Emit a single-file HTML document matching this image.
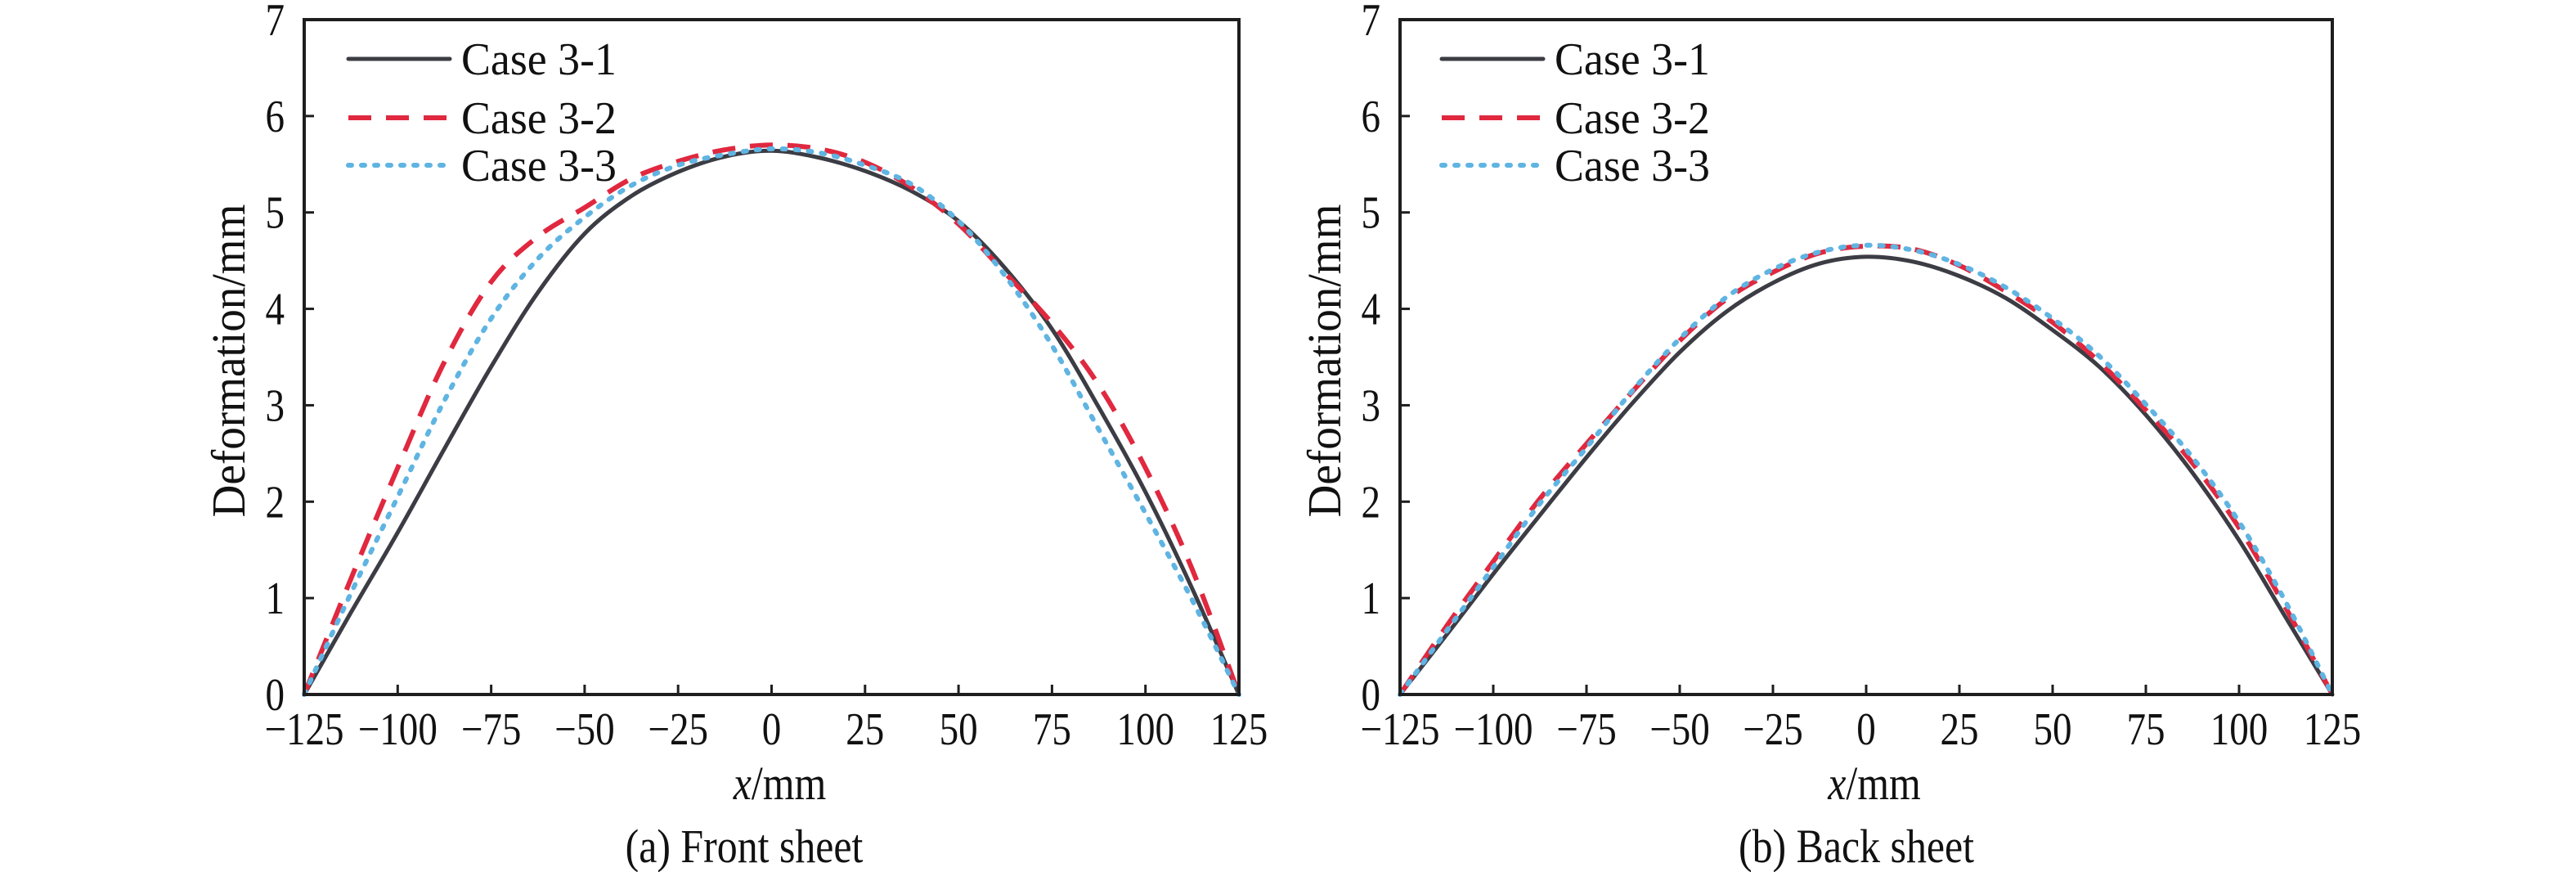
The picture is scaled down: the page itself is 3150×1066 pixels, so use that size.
<!DOCTYPE html>
<html><head><meta charset="utf-8"><style>
html,body{margin:0;padding:0;background:#fff;}
svg{display:block;font-family:"Liberation Serif",serif;}
</style></head><body>
<svg id="fig" width="3150" height="1066" viewBox="0 0 3150 1066" xmlns="http://www.w3.org/2000/svg"></svg>
<script>
const xCats = [-125,-112.5,-100,-87.5,-75,-62.5,-50,-37.5,-25,-12.5,0,12.5,25,37.5,50,62.5,75,87.5,100,112.5,125];
const xTicks = [-125,-100,-75,-50,-25,0,25,50,75,100,125];
const xTickLabels = ["\u2212125","\u2212100","\u221275","\u221250","\u221225","0","25","50","75","100","125"];
const yTicks = [0,1,2,3,4,5,6,7];
const yTickLabels = ["0","1","2","3","4","5","6","7"];
const seriesNames = ["Case 3-1","Case 3-2","Case 3-3"];
const frontCase1 = [0,0.85,1.68,2.55,3.4,4.17,4.78,5.17,5.42,5.58,5.64,5.57,5.43,5.22,4.91,4.42,3.79,2.98,2.1,1.1,0];
const frontCase2 = [0,1.2,2.35,3.45,4.28,4.75,5.05,5.35,5.53,5.65,5.7,5.66,5.52,5.26,4.88,4.37,3.85,3.21,2.35,1.3,0];
const frontCase3 = [0,1.05,2.05,3.05,3.9,4.52,4.95,5.28,5.49,5.6,5.66,5.62,5.49,5.29,4.91,4.34,3.62,2.75,1.88,0.98,0];
const backCase1 = [0,0.62,1.25,1.86,2.46,3.03,3.55,3.97,4.27,4.47,4.54,4.49,4.34,4.11,3.78,3.4,2.9,2.3,1.6,0.8,0];
const backCase2 = [0,0.71,1.38,2.03,2.6,3.15,3.67,4.1,4.38,4.58,4.65,4.62,4.45,4.18,3.86,3.45,2.95,2.4,1.73,0.9,0];
const backCase3 = [0,0.66,1.32,1.98,2.56,3.16,3.69,4.12,4.41,4.59,4.66,4.61,4.46,4.22,3.9,3.51,3.01,2.46,1.79,0.96,0];

const NS="http://www.w3.org/2000/svg";
const svg=document.getElementById('fig');
function mk(tag,attrs,parent){const e=document.createElementNS(NS,tag);for(const k in attrs)e.setAttribute(k,attrs[k]);(parent||svg).appendChild(e);return e;}
function txt(parent,x,y,size,anchor,sx,str){
  const t=mk('text',{x:0,y:0,"font-size":size,"text-anchor":anchor,fill:"#111",transform:"translate("+x+","+y+") scale("+sx+",1)"},parent);
  t.textContent=str;return t;
}
const styles=[
 {stroke:"#3c3c44",dash:"",w:5,cap:"round"},
 {stroke:"#e0283f",dash:"28 18",w:6,cap:"butt"},
 {stroke:"#5fb4e2",dash:"4 12",w:6,cap:"round"}
];
function smoothPath(pts){
  let d="M"+pts[0][0].toFixed(1)+","+pts[0][1].toFixed(1);
  for(let i=0;i<pts.length-1;i++){
    const p0=pts[i-1]||pts[i],p1=pts[i],p2=pts[i+1],p3=pts[i+2]||pts[i+1];
    const c1=[p1[0]+(p2[0]-p0[0])/6,p1[1]+(p2[1]-p0[1])/6];
    const c2=[p2[0]-(p3[0]-p1[0])/6,p2[1]-(p3[1]-p1[1])/6];
    d+=" C"+c1[0].toFixed(1)+","+c1[1].toFixed(1)+" "+c2[0].toFixed(1)+","+c2[1].toFixed(1)+" "+p2[0].toFixed(1)+","+p2[1].toFixed(1);
  }
  return d;
}
function panel(cfg){
  const g=mk('g',{});
  
  
  const L=cfg.left,R=cfg.right,T=24,B=849;
  const xs=v=>L+(v+125)/250*(R-L);
  const ys=v=>B-v/7*(B-T);
  cfg.series.forEach((arr,si)=>{
    const pts=xCats.map((x,i)=>[xs(x),ys(arr[i])]);
    const p=mk('path',{d:smoothPath(pts),fill:"none",stroke:styles[si].stroke,"stroke-width":styles[si].w,"stroke-dasharray":styles[si].dash,"stroke-linecap":styles[si].cap,"stroke-linejoin":"round"},g);
    
    
  });
  const fr=mk('rect',{x:L,y:T,width:R-L,height:B-T,fill:"none",stroke:"#1e1e1e","stroke-width":4},g);
  
  
  xTicks.forEach((t,i)=>{
    const x=xs(t);
    const tk=mk('line',{x1:x,x2:x,y1:B,y2:B-12,stroke:"#1e1e1e","stroke-width":3},g);
    
    
    const tx=txt(g,x,910,56,"middle",0.84,xTickLabels[i]);
    
    
  });
  yTicks.forEach((t,i)=>{
    const y=ys(t);
    const tk=mk('line',{x1:L,x2:L+12,y1:y,y2:y,stroke:"#1e1e1e","stroke-width":3},g);
    
    
    const tx=txt(g,L-24,y+19,56,"end",0.84,yTickLabels[i]);
    
    
  });
  const yt=mk('text',{x:0,y:0,"font-size":58,"text-anchor":"middle",fill:"#111",transform:"translate("+(L-73)+",441) rotate(-90)",textLength:383,lengthAdjust:"spacingAndGlyphs"},g);
  yt.textContent="Deformation/mm";
  
  
  const xt=mk('text',{x:0,y:0,"font-size":58,"text-anchor":"middle",fill:"#111",transform:"translate("+((L+R)/2+10)+",977) scale(0.86,1)"},g);
  const xi=mk('tspan',{"font-style":"italic"},xt);xi.textContent="x";
  const xr=mk('tspan',{},xt);xr.textContent="/mm";
  
  
  const cap=txt(g,cfg.capX,1054,58,"middle",0.86,cfg.caption);
  
  
  const rowsY=[72,144,202];
  seriesNames.forEach((n,i)=>{
    const lg=mk('g',{},g);
    
    
    const ln=mk('line',{x1:cfg.legX,x2:cfg.legX+124,y1:rowsY[i],y2:rowsY[i],stroke:styles[i].stroke,"stroke-width":styles[i].w,"stroke-dasharray":styles[i].dash,"stroke-linecap":styles[i].cap},lg);
    
    
    const tx=mk('text',{x:cfg.legX+138,y:rowsY[i]+19,"font-size":56,fill:"#111",textLength:190,lengthAdjust:"spacingAndGlyphs"},lg);
    tx.textContent=n;
    
    
  });
}
panel({name:"front-sheet-chart",prefix:"front",left:372,right:1515,series:[frontCase1,frontCase2,frontCase3],caption:"(a) Front sheet",capX:910,legX:426});
panel({name:"back-sheet-chart",prefix:"back",left:1712,right:2852,series:[backCase1,backCase2,backCase3],caption:"(b) Back sheet",capX:2270,legX:1763});
</script>
</body></html>
